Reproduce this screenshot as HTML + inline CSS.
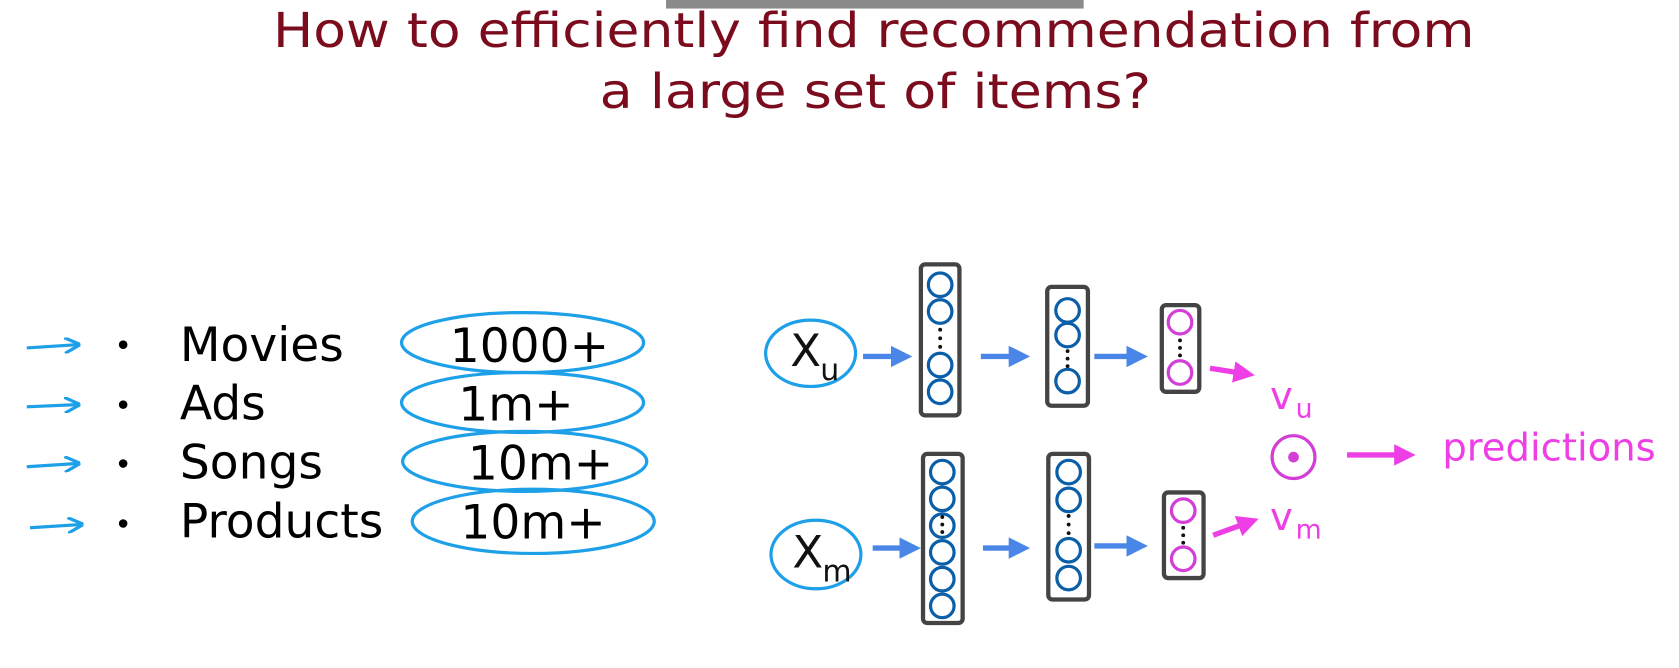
<!DOCTYPE html>
<html><head><meta charset="utf-8"><style>
html,body{margin:0;padding:0;background:#fff;width:1679px;height:668px;overflow:hidden}
svg{display:block}
text{font-family:"DejaVu Sans","Liberation Sans",sans-serif}
</style></head><body>
<svg width="1679" height="668" viewBox="0 0 1568 624" preserveAspectRatio="none" xmlns="http://www.w3.org/2000/svg">
<defs>
<marker id="ab" markerWidth="4" markerHeight="4" refX="2" refY="2" orient="auto"><path d="M0,0 L4,2 L0,4 z" fill="#4a86e8"/></marker>
<marker id="am" markerWidth="4" markerHeight="4" refX="2" refY="2" orient="auto"><path d="M0,0 L4,2 L0,4 z" fill="#ee3fe6"/></marker>
<marker id="ac" markerWidth="5" markerHeight="5" refX="4" refY="2.5" orient="auto"><path d="M0,0 L5,2.5 L0,5" fill="none" stroke="#1ea0e8" stroke-width="1"/></marker>
</defs>
<rect x="622" y="0" width="390" height="8" fill="#8a8a8a"/>
<g fill="#7a0c1e" font-size="45">
<text x="255" y="44" textLength="1122" lengthAdjust="spacingAndGlyphs">How to efficiently find recommendation from</text>
<text x="560" y="101" textLength="515" lengthAdjust="spacingAndGlyphs">a large set of items?</text>
</g>
<g stroke="#1ea0e8" stroke-width="3" marker-end="url(#ac)">
<line x1="25" y1="325" x2="72" y2="322"/><line x1="25" y1="380" x2="72" y2="378"/>
<line x1="25" y1="436" x2="72" y2="433"/><line x1="28" y1="493" x2="75" y2="490"/>
</g>
<g fill="#000" font-size="44">
<circle cx="115" cy="322" r="4"/><circle cx="115" cy="378" r="4"/><circle cx="115" cy="433" r="4"/><circle cx="115" cy="489" r="4"/>
<text x="168" y="337">Movies</text><text x="168" y="392">Ads</text><text x="168" y="447">Songs</text><text x="168" y="502">Products</text>
<text x="420" y="338">1000+</text><text x="428" y="393">1m+</text><text x="437" y="448">10m+</text><text x="430" y="503">10m+</text>
</g>
<g fill="none" stroke="#1ea0e8" stroke-width="3">
<ellipse cx="488" cy="320" rx="113" ry="28"/><ellipse cx="488" cy="376" rx="113" ry="28"/>
<ellipse cx="490" cy="431" rx="114" ry="28"/><ellipse cx="498" cy="487" rx="113" ry="30"/>
<ellipse cx="757" cy="330" rx="42" ry="31"/><ellipse cx="762" cy="518" rx="42" ry="32"/>
</g>
<text x="738" y="342" font-size="42" fill="#111">X</text><text x="766" y="355" font-size="28" fill="#111">u</text>
<text x="740" y="530" font-size="42" fill="#111">X</text><text x="768" y="543" font-size="28" fill="#111">m</text>
<g stroke="#4a86e8" stroke-width="5" marker-end="url(#ab)">
<line x1="806" y1="333" x2="842" y2="333"/><line x1="916" y1="333" x2="952" y2="333"/><line x1="1022" y1="333" x2="1062" y2="333"/>
<line x1="815" y1="512" x2="850" y2="512"/><line x1="918" y1="512" x2="952" y2="512"/><line x1="1022" y1="510" x2="1062" y2="510"/>
</g>
<g stroke="#ee3fe6" stroke-width="5" marker-end="url(#am)">
<line x1="1130" y1="344" x2="1162" y2="349"/><line x1="1133" y1="500" x2="1166" y2="488"/>
<line x1="1258" y1="425" x2="1312" y2="425"/>
</g>
<g fill="none" stroke="#444" stroke-width="4">
<rect x="860" y="247" width="36" height="141" rx="4"/><rect x="978" y="268" width="38" height="111" rx="4"/><rect x="1085" y="285" width="35" height="81" rx="4"/>
<rect x="862" y="424" width="37" height="158" rx="4"/><rect x="979" y="424" width="38" height="136" rx="4"/><rect x="1087" y="460" width="37" height="80" rx="4"/>
</g>
<g fill="none" stroke="#0b5fa8" stroke-width="3">
<circle cx="878" cy="266" r="11"/><circle cx="878" cy="291" r="11"/><circle cx="878" cy="341" r="11"/><circle cx="878" cy="366" r="11"/>
<circle cx="997" cy="290" r="11"/><circle cx="997" cy="313" r="11"/><circle cx="997" cy="356" r="11"/>
<circle cx="880" cy="441" r="11"/><circle cx="880" cy="466" r="11"/><circle cx="880" cy="491" r="11"/><circle cx="880" cy="516" r="11"/><circle cx="880" cy="541" r="11"/><circle cx="880" cy="566" r="11"/>
<circle cx="998" cy="441" r="11"/><circle cx="998" cy="467" r="11"/><circle cx="998" cy="514" r="11"/><circle cx="998" cy="540" r="11"/>
</g>
<g fill="none" stroke="#d23ed6" stroke-width="3">
<circle cx="1102" cy="301" r="11"/><circle cx="1102" cy="348" r="11"/><circle cx="1105" cy="477" r="11"/><circle cx="1105" cy="522" r="11"/>
<circle cx="1208" cy="427" r="20"/>
</g>
<circle cx="1208" cy="427" r="5" fill="#d23ed6"/>
<g fill="#111">
<circle cx="878" cy="308" r="1.8"/><circle cx="878" cy="316" r="1.8"/><circle cx="878" cy="324" r="1.8"/>
<circle cx="997" cy="328" r="1.8"/><circle cx="997" cy="335" r="1.8"/><circle cx="997" cy="342" r="1.8"/>
<circle cx="880" cy="483" r="1.8"/><circle cx="880" cy="490" r="1.8"/><circle cx="880" cy="497" r="1.8"/>
<circle cx="998" cy="482" r="1.8"/><circle cx="998" cy="490" r="1.8"/><circle cx="998" cy="498" r="1.8"/>
<circle cx="1102" cy="318" r="1.8"/><circle cx="1102" cy="325" r="1.8"/><circle cx="1102" cy="332" r="1.8"/>
<circle cx="1105" cy="493" r="1.8"/><circle cx="1105" cy="500" r="1.8"/><circle cx="1105" cy="507" r="1.8"/>
</g>
<g fill="#ee3fe6">
<text x="1186" y="382" font-size="36">v</text><text x="1210" y="390" font-size="25">u</text>
<text x="1186" y="495" font-size="36">v</text><text x="1210" y="503" font-size="25">m</text>
<text x="1347" y="430" font-size="36">predictions</text>
</g>
</svg>
</body></html>
